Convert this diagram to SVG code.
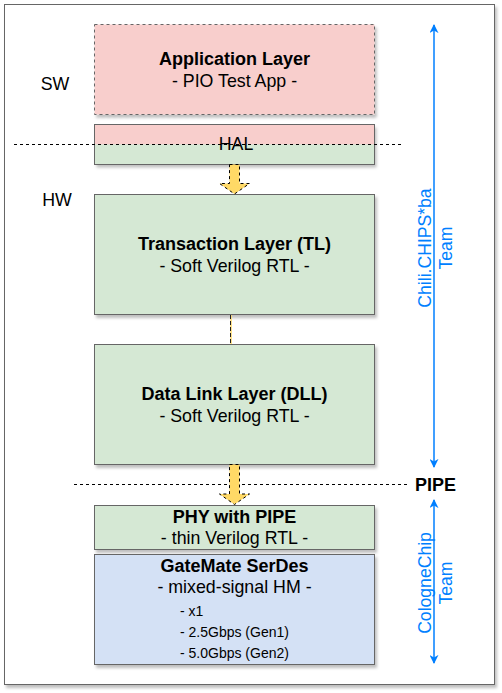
<svg xmlns="http://www.w3.org/2000/svg" width="502" height="693" viewBox="0 0 502 693">
<defs>
<filter id="sh" x="-10%" y="-10%" width="130%" height="130%">
<feDropShadow dx="2" dy="3" stdDeviation="1.5" flood-color="#000" flood-opacity="0.25"/>
</filter>
<marker id="bh" viewBox="0 0 10 10" refX="9" refY="5" markerWidth="9" markerHeight="9" markerUnits="userSpaceOnUse" orient="auto-start-reverse">
<path d="M0,0 L10,5 L0,10 L3,5 Z" fill="#007fff"/>
</marker>
</defs>
<style>
text{font-family:"Liberation Sans",Arial,Helvetica,sans-serif;fill:#000}
.t{font-size:17.8px;text-anchor:middle}
.b{font-weight:bold;font-size:18px}
.s{font-size:14px}
.box{stroke:#666;stroke-width:1}
.pink{fill:#f8cecc}
.green{fill:#d5e8d4}
.blue{fill:#d4e1f5}
.sep{stroke:#000;stroke-width:1;stroke-dasharray:3,3;fill:none}
.blk{fill:#ffd966;stroke:#000;stroke-width:1;stroke-dasharray:3,3}
.team{stroke:#007fff;stroke-width:1.5;fill:none;marker-start:url(#bh);marker-end:url(#bh)}
.bt{fill:#007fff;font-size:17.6px;text-anchor:middle}
</style>
<rect id="frame" x="4.5" y="4.5" width="490" height="680" fill="#fff" stroke="#666" filter="url(#sh)"/>
<g id="app">
<rect class="box pink" x="94.5" y="24.5" width="280" height="90" stroke-dasharray="3,3" filter="url(#sh)"/>
<text class="t b" x="234.5" y="65">Application Layer</text>
<text class="t" x="234.5" y="86.5">- PIO Test App -</text>
</g>
<g id="hal">
<g filter="url(#sh)">
<rect class="pink" x="94.5" y="124.5" width="280" height="20"/>
<rect class="green" x="94.5" y="144.5" width="280" height="20"/>
</g>
<rect x="94.5" y="124.5" width="280" height="40" fill="none" stroke="#666"/>
<text class="t" x="236" y="150">HAL</text>
</g>
<g id="tl">
<rect class="box green" x="94.5" y="194.5" width="280" height="120" filter="url(#sh)"/>
<text class="t b" x="234.5" y="250">Transaction Layer (TL)</text>
<text class="t" x="234.5" y="271.5">- Soft Verilog RTL -</text>
</g>
<g id="dll">
<rect class="box green" x="94.5" y="344.5" width="280" height="120" filter="url(#sh)"/>
<text class="t b" x="234.5" y="400">Data Link Layer (DLL)</text>
<text class="t" x="234.5" y="421.5">- Soft Verilog RTL -</text>
</g>
<g id="phy">
<rect class="box green" x="94.5" y="505.5" width="280" height="44" filter="url(#sh)"/>
<text class="t b" x="234.5" y="522.5">PHY with PIPE</text>
<text class="t" x="234.5" y="544">- thin Verilog RTL -</text>
</g>
<g id="serdes">
<rect class="box blue" x="94.5" y="554.5" width="280" height="110" filter="url(#sh)"/>
<text class="t b" x="234.5" y="571.5">GateMate SerDes</text>
<text class="t" x="234.5" y="593">- mixed-signal HM -</text>
<text class="s" x="180" y="615.5">- x1</text>
<text class="s" x="180" y="636.5">- 2.5Gbps (Gen1)</text>
<text class="s" x="180" y="658">- 5.0Gbps (Gen2)</text>
</g>
<g id="labels">
<text class="t" x="55" y="90">SW</text>
<text class="t" x="57" y="206">HW</text>
<text class="b" x="415" y="491">PIPE</text>
</g>
<g id="connectors">
<line class="sep" x1="14" y1="144.5" x2="402" y2="144.5"/>
<line class="sep" x1="74" y1="484.5" x2="407" y2="484.5"/>
<path class="blk" d="M229.5,164.5 L239.5,164.5 L239.5,183.5 L249.5,183.5 L234.5,194 L219.5,183.5 L229.5,183.5 Z"/>
<path class="blk" d="M229.5,464.5 L239.5,464.5 L239.5,494 L249.5,494 L234.5,504.5 L219.5,494 L229.5,494 Z"/>
<line x1="231" y1="315" x2="231" y2="344" stroke="#ffd966" stroke-width="1.5"/>
<line x1="230.5" y1="315" x2="230.5" y2="344" stroke="#222" stroke-width="1" stroke-dasharray="4,2"/>
<line class="team" x1="434" y1="467" x2="434" y2="25"/>
<line class="team" x1="434" y1="663" x2="434" y2="500"/>
</g>
<g id="team-labels">
<text class="bt" transform="translate(430.5,248) rotate(-90)">Chili.CHIPS*ba</text>
<text class="bt" transform="translate(451.5,248) rotate(-90)">Team</text>
<text class="bt" transform="translate(430.5,583) rotate(-90)">CologneChip</text>
<text class="bt" transform="translate(451.5,583) rotate(-90)">Team</text>
</g>
</svg>
